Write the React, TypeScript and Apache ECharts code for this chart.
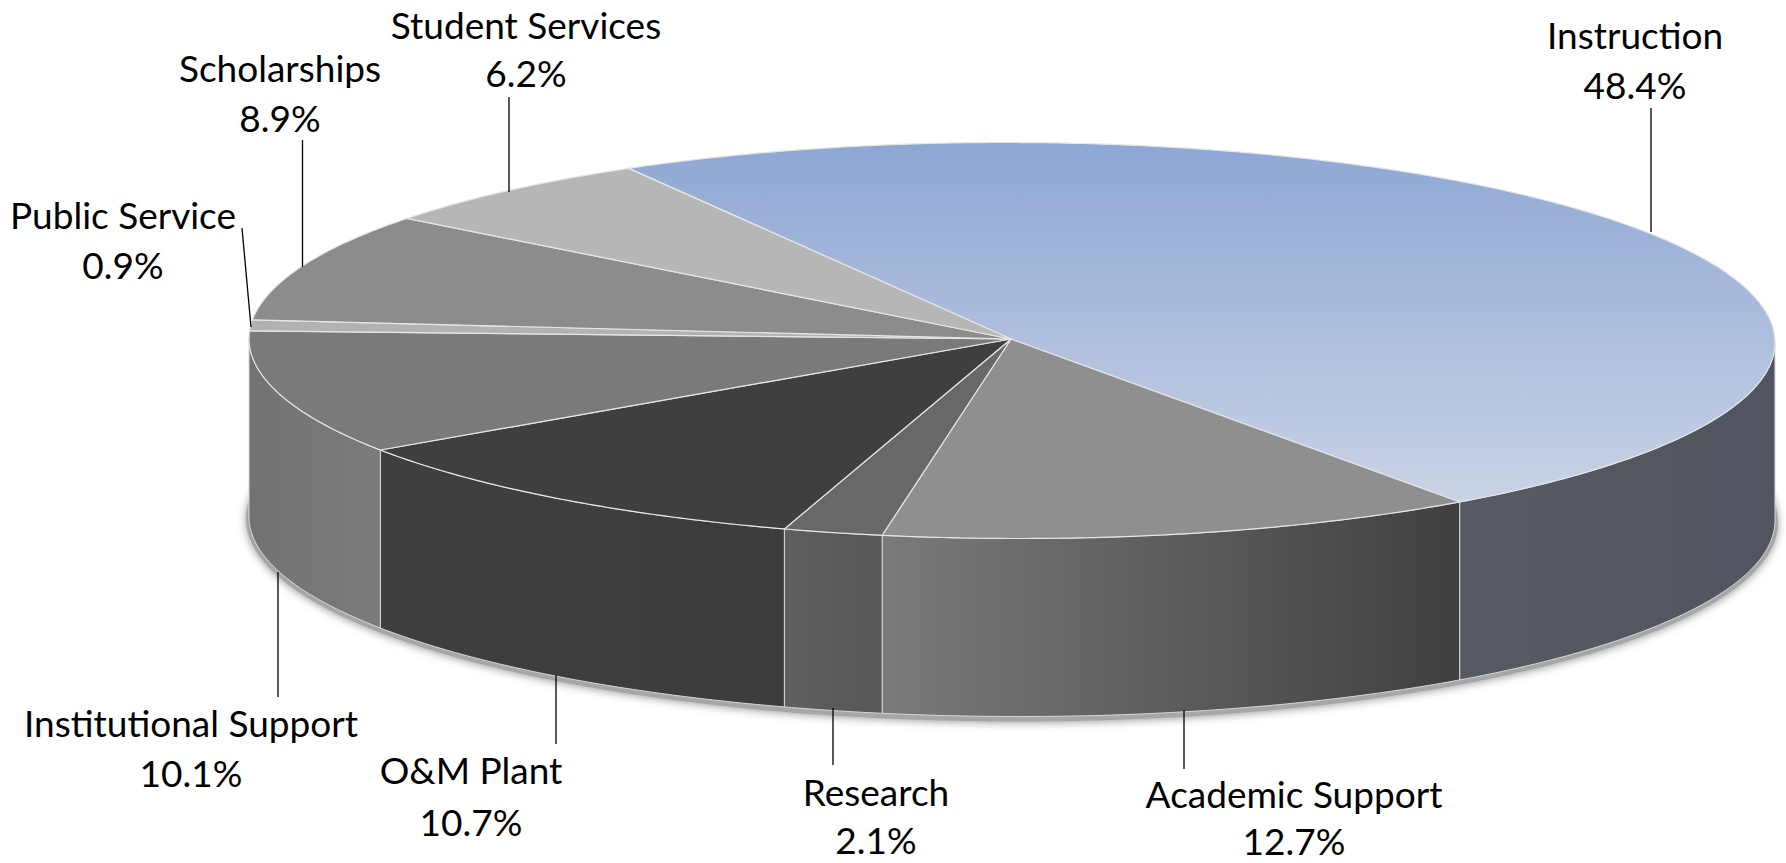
import React, { useEffect, useRef } from "react";
import * as echarts from "echarts";

const categories = ["Instruction", "Academic Support", "Research", "O&M Plant", "Institutional Support", "Public Service", "Scholarships", "Student Services"];
const shares = [48.4, 12.7, 2.1, 10.7, 10.1, 0.9, 8.9, 6.2];

// Styling, in category order
const topFills: any[] = [
  ["#8ea7d3", "#cad3e6"], "#8f8f8f", "#686868", "#3f3f3f", "#7a7a7a", "#b2b2b2", "#8c8c8c", "#b6b6b6",
];
const wallFills: any[] = [
  ["#565a62", "#50555f"], ["#7a7a7a", "#3f3f3f"], ["#5f5f5f", "#565656"], ["#3f3f3f", "#3c3c3c"], ["#727272", "#7b7b7b"], "#777", "#777", "#777",
];
// Label layout: [centre x, line 1 y, line 2 y, leader x1, y1, x2, y2]
const labelLayout = [
  [1635, 34, 84, 1651, 108, 1651, 232],
  [1294, 793, 840, 1184, 710, 1184, 769],
  [876, 791, 839, 833, 708, 833, 765],
  [471, 769, 821, 556, 675, 556, 744],
  [191, 722, 772, 278, 572, 278, 697],
  [123, 214, 264, 242, 228, 251, 327],
  [280, 67, 117, 302.5, 140, 302.5, 267],
  [526, 24, 72, 509, 97, 509, 192],
];

const CX = 1012, CY = 340.5, RX = 763, RY = 198, DEPTH = 178;
const APEX_X = 1011, APEX_Y = 339;
const TILT = (0.15 * Math.PI) / 180;
const START = (-30.2 * Math.PI) / 180; // clockwise from 12 o'clock
const total = shares.reduce((a, b) => a + b, 0);
const T0 = Math.atan(-(RY / RX) * Math.tan(TILT));

function pt(t: number, dy = 0, grow = 0, cx = CX): number[] {
  const rx = RX + grow, ry = RY + grow;
  return [
    cx + rx * Math.cos(t) * Math.cos(TILT) - ry * Math.sin(t) * Math.sin(TILT),
    CY + dy + rx * Math.cos(t) * Math.sin(TILT) + ry * Math.sin(t) * Math.cos(TILT),
  ];
}
function arc(a: number, b: number, dy = 0): number[][] {
  const n = Math.max(2, Math.ceil(Math.abs(b - a) / 0.01));
  const out: number[][] = [];
  for (let i = 0; i <= n; i++) out.push(pt(a + ((b - a) * i) / n, dy));
  return out;
}
function range(i: number): [number, number] {
  let s = 0;
  for (let k = 0; k < i; k++) s += shares[k];
  const a = START - Math.PI / 2 + (s / total) * Math.PI * 2;
  return [a, a + (shares[i] / total) * Math.PI * 2];
}
function paint(f: any, vertical: boolean) {
  if (!Array.isArray(f)) return f;
  return new echarts.graphic.LinearGradient(0, 0, vertical ? 0 : 1, vertical ? 1 : 0, [
    { offset: 0, color: f[0] },
    { offset: 1, color: f[1] },
  ]);
}

const shadowItem = (params: any) => {
  if (params.dataIndex !== 0) return null;
  const pts: number[][] = [];
  for (let k = 0; k < 720; k++) pts.push(pt((k / 720) * Math.PI * 2, DEPTH + 2, 3));
  return {
    type: "polygon",
    shape: { points: pts },
    style: { fill: "#a6a6a6", shadowBlur: 8, shadowColor: "rgba(110,110,110,0.7)", shadowOffsetX: 0, shadowOffsetY: 1 },
  };
};

const wallItem = (params: any) => {
  const i = params.dataIndex;
  const [a, b] = range(i);
  // shift into the range where the rim faces the viewer
  const children: any[] = [];
  for (const shift of [0, Math.PI * 2]) {
    const lo = Math.max(a + shift, T0), hi = Math.min(b + shift, T0 + Math.PI);
    if (hi <= lo) continue;
    const top = arc(lo, hi);
    const bottom = arc(hi, lo, DEPTH);
    children.push({
      type: "polygon",
      shape: { points: [...top, ...bottom] },
      style: { fill: paint(wallFills[i], false), stroke: "#d8d8d8", lineWidth: 1 },
    });
  }
  return children.length ? { type: "group", children } : null;
};

const topItem = (params: any) => {
  const i = params.dataIndex;
  const [a, b] = range(i);
  return {
    type: "polygon",
    shape: { points: [[APEX_X, APEX_Y], ...arc(a, b)] },
    style: { fill: paint(topFills[i], true), stroke: "#e6e6e6", lineWidth: 1.2, lineJoin: "round" },
  };
};

const labelItem = (params: any) => {
  const i = params.dataIndex;
  const [cx, y1, y2, x1, ly1, x2, ly2] = labelLayout[i];
  const font = { fontFamily: "Lato", fontSize: 37, fill: "#000", align: "center", verticalAlign: "middle" };
  return {
    type: "group",
    children: [
      { type: "line", shape: { x1, y1: ly1, x2, y2: ly2 }, style: { stroke: "#000", lineWidth: 1.3 } },
      { type: "text", x: cx, y: y1, style: { ...font, text: categories[i] } },
      { type: "text", x: cx, y: y2, style: { ...font, text: shares[i].toFixed(1) + "%" } },
    ],
  };
};

export default function App() {
  const ref = useRef<HTMLDivElement>(null);
  useEffect(() => {
    document.body.style.margin = "0";
    const chart = echarts.init(ref.current!, undefined, { renderer: "svg" });
    const data = shares.map((v, i) => ({ name: categories[i], value: v }));
    const mk = (renderItem: any, z: number) => ({
      type: "custom",
      coordinateSystem: "none",
      renderItem,
      data,
      z,
      silent: true,
      clip: false,
    });
    chart.setOption({
      animation: false,
      backgroundColor: "#fff",
      series: [mk(shadowItem, 1), mk(wallItem, 2), mk(topItem, 3), mk(labelItem, 4)],
    });
    return () => chart.dispose();
  }, []);
  return <div ref={ref} style={{ width: 1786, height: 863 }} />;
}
